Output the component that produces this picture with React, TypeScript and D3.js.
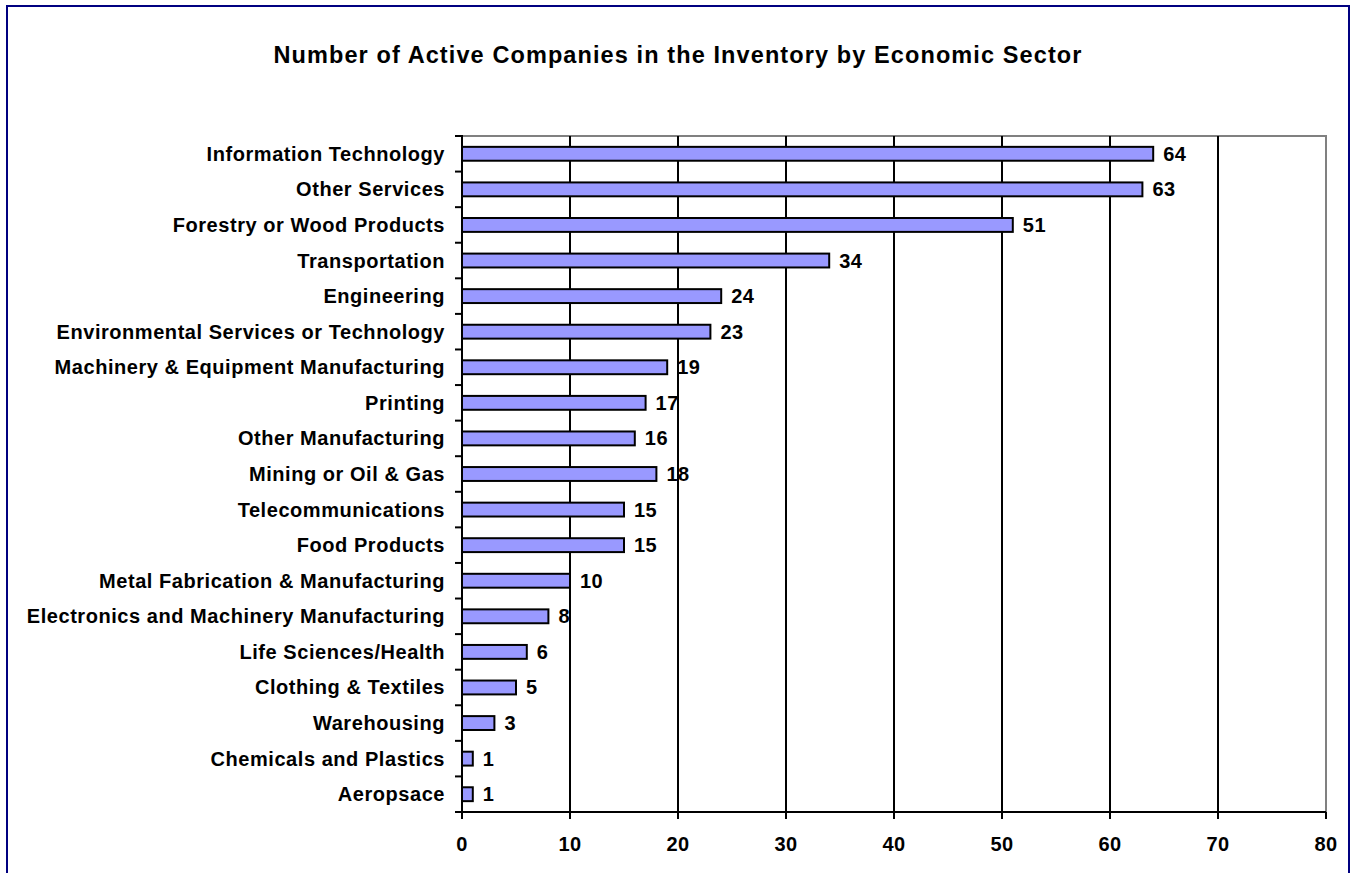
import { useEffect, useRef } from "react";
import * as d3 from "d3";

const sectors = [
  "Information Technology",
  "Other Services",
  "Forestry or Wood Products",
  "Transportation",
  "Engineering",
  "Environmental Services or Technology",
  "Machinery & Equipment Manufacturing",
  "Printing",
  "Other Manufacturing",
  "Mining or Oil & Gas",
  "Telecommunications",
  "Food Products",
  "Metal Fabrication & Manufacturing",
  "Electronics and Machinery Manufacturing",
  "Life Sciences/Health",
  "Clothing & Textiles",
  "Warehousing",
  "Chemicals and Plastics",
  "Aeropsace",
];
const companies = [64, 63, 51, 34, 24, 23, 19, 17, 16, 18, 15, 15, 10, 8, 6, 5, 3, 1, 1];
const xTicks = [0, 10, 20, 30, 40, 50, 60, 70, 80];
const title = "Number of Active Companies in the Inventory by Economic Sector";

const FONT = "Arial, 'Liberation Sans', sans-serif";

const App = () => {
  const ref = useRef<SVGSVGElement>(null);

  useEffect(() => {
    const width = 1352;
    const height = 873;
    const margin = { top: 136, right: 26, bottom: 61, left: 462 };
    const svg = d3.select(ref.current);
    svg.selectAll("*").remove();

    const data = sectors.map((name, i) => ({ name, value: companies[i] }));

    const xScale = d3
      .scaleLinear()
      .domain([0, 80])
      .range([margin.left, width - margin.right]);

    const yScale = d3
      .scaleBand()
      .domain(sectors)
      .range([margin.top, height - margin.bottom])
      .paddingInner(0.61)
      .paddingOuter(0.305);

    const step = yScale.step();
    const top = margin.top;
    const bottom = height - margin.bottom;

    // outer frame
    svg
      .append("rect")
      .attr("x", 7)
      .attr("y", 6)
      .attr("width", 1342)
      .attr("height", 900)
      .attr("fill", "white")
      .attr("stroke", "#000080")
      .attr("stroke-width", 2);

    // title
    svg
      .append("text")
      .attr("x", 678)
      .attr("y", 63)
      .attr("text-anchor", "middle")
      .style("font-family", FONT)
      .style("font-size", "23.5px")
      .style("font-weight", "bold")
      .style("letter-spacing", "1.1px")
      .text(title);

    // plot area border (top / right)
    svg
      .append("path")
      .attr("d", `M${xScale(0)},${top}H${xScale(80)}V${bottom}`)
      .attr("fill", "none")
      .attr("stroke", "#808080")
      .attr("stroke-width", 2);

    // vertical gridlines
    svg
      .append("g")
      .selectAll("line")
      .data(xTicks.filter((t) => t > 0 && t < 80))
      .join("line")
      .attr("x1", (d) => xScale(d))
      .attr("x2", (d) => xScale(d))
      .attr("y1", top)
      .attr("y2", bottom)
      .attr("stroke", "black")
      .attr("stroke-width", 2);

    // bars
    svg
      .append("g")
      .selectAll("rect")
      .data(data)
      .join("rect")
      .attr("x", xScale(0))
      .attr("y", (d) => yScale(d.name)!)
      .attr("width", (d) => xScale(d.value) - xScale(0))
      .attr("height", yScale.bandwidth())
      .attr("fill", "#9999FF")
      .attr("stroke", "black")
      .attr("stroke-width", 2);

    // value labels
    svg
      .append("g")
      .selectAll("text")
      .data(data)
      .join("text")
      .attr("x", (d) => xScale(d.value) + 10)
      .attr("y", (d) => yScale(d.name)! + yScale.bandwidth() / 2 + 7)
      .style("font-family", FONT)
      .style("font-size", "20px")
      .style("font-weight", "bold")
      .style("letter-spacing", "0.5px")
      .text((d) => d.value);

    // y axis
    const yAxis = svg.append("g");
    yAxis
      .append("line")
      .attr("x1", xScale(0))
      .attr("x2", xScale(0))
      .attr("y1", top - 1)
      .attr("y2", bottom + 7)
      .attr("stroke", "black")
      .attr("stroke-width", 2);
    yAxis
      .selectAll("line.tick")
      .data(d3.range(sectors.length + 1))
      .join("line")
      .attr("class", "tick")
      .attr("x1", xScale(0) - 7)
      .attr("x2", xScale(0))
      .attr("y1", (i) => top + i * step)
      .attr("y2", (i) => top + i * step)
      .attr("stroke", "black")
      .attr("stroke-width", 2);
    yAxis
      .selectAll("text")
      .data(sectors)
      .join("text")
      .attr("x", xScale(0) - 17)
      .attr("y", (d) => yScale(d)! + yScale.bandwidth() / 2 + 7)
      .attr("text-anchor", "end")
      .style("font-family", FONT)
      .style("font-size", "20px")
      .style("font-weight", "bold")
      .style("letter-spacing", "0.55px")
      .text((d) => d);

    // x axis
    const xAxis = svg.append("g");
    xAxis
      .append("line")
      .attr("x1", xScale(0) - 7)
      .attr("x2", xScale(80))
      .attr("y1", bottom)
      .attr("y2", bottom)
      .attr("stroke", "black")
      .attr("stroke-width", 2);
    xAxis
      .selectAll("line.tick")
      .data(xTicks)
      .join("line")
      .attr("class", "tick")
      .attr("x1", (d) => xScale(d))
      .attr("x2", (d) => xScale(d))
      .attr("y1", bottom)
      .attr("y2", bottom + 7)
      .attr("stroke", "black")
      .attr("stroke-width", 2);
    xAxis
      .selectAll("text")
      .data(xTicks)
      .join("text")
      .attr("x", (d) => xScale(d))
      .attr("y", bottom + 39)
      .attr("text-anchor", "middle")
      .style("font-family", FONT)
      .style("font-size", "20px")
      .style("font-weight", "bold")
      .style("letter-spacing", "0.5px")
      .text((d) => d);
  }, []);

  return (
    <svg
      ref={ref}
      width={1352}
      height={873}
      style={{ position: "absolute", left: 0, top: 0, display: "block" }}
    />
  );
};

export default App;
